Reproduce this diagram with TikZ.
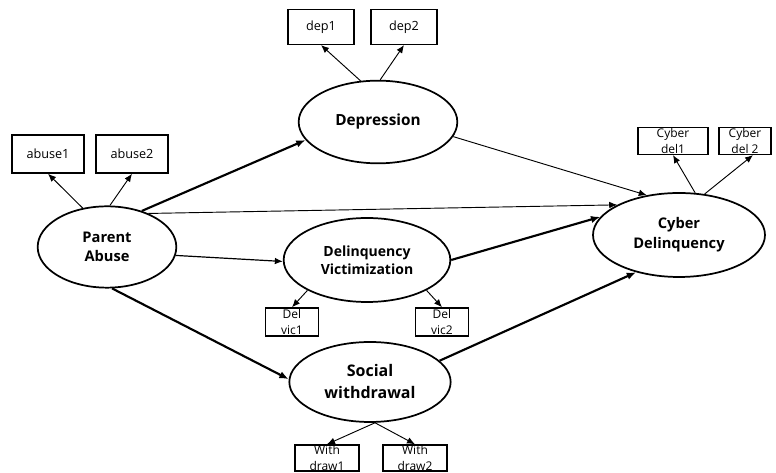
\documentclass[tikz,border=0pt]{standalone}
\usepackage{fontspec}
\setmainfont{Open Sans}
\usetikzlibrary{arrows.meta}
\usetikzlibrary{shapes.geometric}

\begin{document}
\begin{tikzpicture}[x=0.75pt,y=-0.75pt]
  % some styles
  \tikzset{
    latent/.style={
      ellipse,
      draw=black,
      line width=1.3pt,
      inner sep=0mm,
      align=center,
      font=\bfseries\fontsize{11}{14}\selectfont
    }
  }
 \tikzset{ind/.style={rectangle,draw=black,line width=1.1pt,inner sep=0pt,font=\fontsize{9.5}{11}\selectfont}}
 \tikzset{twoline/.style={label={[align=center,inner sep=0pt,font=\fontsize{9}{11.5}\selectfont]center:#1}}}
 \tikzset{strong/.style={-{Latex[length=7pt,width=5.5pt]},line width=1.6pt}}
 \tikzset{weak/.style={-{Latex[length=6pt,width=5pt]},line width=0.7pt}}

\useasboundingbox (0,0) rectangle (776,473);

% latent variables
\node[latent,minimum width=104pt,minimum height=61pt] (pa) at (107,247) {Parent\\Abuse};
\node[latent,minimum width=119pt,minimum height=62pt,font=\bfseries\fontsize{11.5}{14}\selectfont] (dep) at (378,122) {Depression};
\node[latent,minimum width=125pt,minimum height=63pt,font=\bfseries\fontsize{10.5}{13.5}\selectfont] (dv) at (367,260) {Delinquency\\Victimization};
\node[latent,minimum width=121pt,minimum height=60pt,font=\bfseries\fontsize{12}{16.5}\selectfont] (sw) at (370,382) {Social\\withdrawal};
\node[latent,minimum width=129pt,minimum height=63pt,font=\bfseries\fontsize{11}{15}\selectfont] (cd) at (679,235) {Cyber\\Delinquency};

% indicators
\node[ind,minimum width=54pt,minimum height=28.5pt] (ab1) at (48,154) {abuse1};
\node[ind,minimum width=54pt,minimum height=28.5pt] (ab2) at (132,154) {abuse2};
\node[ind,minimum width=49.5pt,minimum height=26pt] (dep1) at (321,27) {dep1};
\node[ind,minimum width=49.5pt,minimum height=26pt] (dep2) at (404,27) {dep2};
\node[ind,minimum width=52.5pt,minimum height=20pt,twoline={Cyber\\del1}] (cd1) at (673,141) {};
\node[ind,minimum width=39pt,minimum height=20pt,twoline={Cyber\\del 2}] (cd2) at (745,141) {};
\node[ind,minimum width=40pt,minimum height=21pt,twoline={Del\\vic1}] (dv1) at (292,322) {};
\node[ind,minimum width=40pt,minimum height=21pt,twoline={Del\\vic2}] (dv2) at (442,322) {};
\node[ind,minimum width=48pt,minimum height=19.5pt,twoline={With\\draw1}] (wd1) at (327,458) {};
\node[ind,minimum width=48pt,minimum height=19.5pt,twoline={With\\draw2}] (wd2) at (415,458) {};

% measurement arrows
\draw[weak] (pa.122) -- (ab1.south);
\draw[weak] (pa.86) -- (ab2.south);
\draw[weak] (dep.113) -- (dep1.south);
\draw[weak] (dep.87) -- (dep2.south);
\draw[weak] (cd.69) -- (cd1.south);
\draw[weak] (cd.58) -- ([xshift=6pt]cd2.south);
\draw[weak] (dv.207) -- (dv1.north);
\draw[weak] (dv.333) -- (dv2.north);
\draw[weak] (sw.277) -- (wd1.north);
\draw[weak] (sw.277) -- (wd2.north);

% structural paths
\draw[strong] (pa.46) -- (dep.194);
\draw[weak] (pa.39) -- (cd.154);
\draw[weak,line width=0.9pt] (pa.353) -- (dv.181);
\draw[strong] (pa.277) -- (sw.178);
\draw[weak] (dep.349) -- (cd.129);
\draw[strong] (dv.0) -- (cd.167);
\draw[strong] (sw.17) -- (cd.221);

\end{tikzpicture}
\end{document}
